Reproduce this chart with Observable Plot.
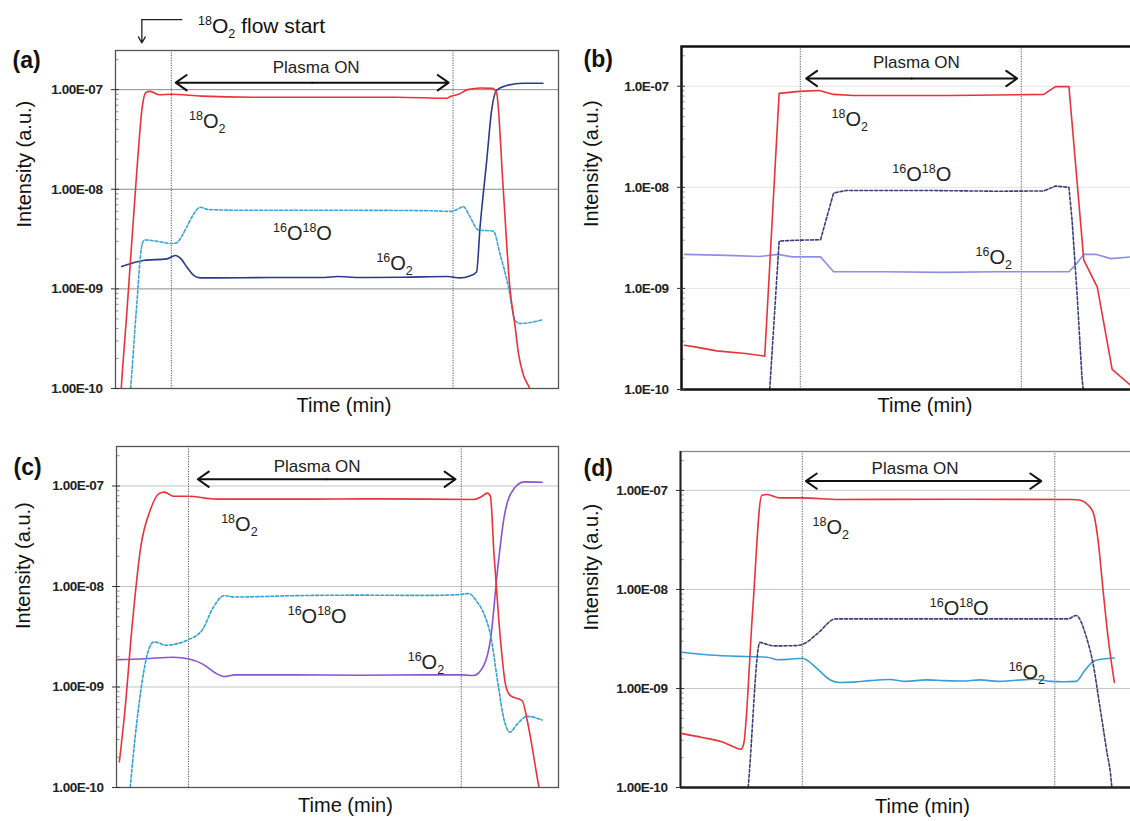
<!DOCTYPE html>
<html><head><meta charset="utf-8">
<script src="https://cdn.jsdelivr.net/npm/d3@7"></script>
<script src="https://cdn.jsdelivr.net/npm/@observablehq/plot@0.6"></script>
<style>
html,body{margin:0;padding:0;background:#fff;overflow:hidden;}
#fig{position:relative;width:1130px;height:821px;overflow:hidden;background:#fff;}
.panel{position:absolute;}
.panel svg{display:block;max-width:none;overflow:visible;}
g[aria-label="y-axis tick label"] text{letter-spacing:-0.45px;}
</style></head><body><div id="fig"></div>
<script>
// ---------- data (time in arbitrary units 0–100 across each frame, intensity in a.u.) ----------
const yTicks = [1e-10, 1e-9, 1e-8, 1e-7];

// (a)
const a18O2 = [[1.0,6e-11],[1.3,1.0e-10],[2.6,6.1e-10],[4.8,1.5e-8],[6.0,6.5e-8],[6.8,9.3e-8],[7.8,9.6e-8],[9.8,8.9e-8],[12.6,9.0e-8],[19.5,8.6e-8],[30.9,8.4e-8],[47.2,8.4e-8],[63.4,8.4e-8],[74.8,8.2e-8],[75.5,8.5e-8],[77.5,9.0e-8],[79.5,1.0e-7],[82.5,1.04e-7],[85.0,1.03e-7],[86.0,9.4e-8],[87.5,1.05e-8],[89.0,1.05e-9],[90.2,4.2e-10],[91.0,2.2e-10],[92.0,1.4e-10],[93.5,1.0e-10],[94.3,8e-11]];
const a16O18O = [[3.2,8e-11],[3.4,1.0e-10],[4.7,6.1e-10],[6.0,2.8e-9],[6.6,3.1e-9],[9.5,3.0e-9],[12.5,2.85e-9],[13.8,2.9e-9],[15.0,3.4e-9],[16.1,4.2e-9],[17.6,5.6e-9],[19.1,6.6e-9],[21,6.25e-9],[30,6.15e-9],[50,6.15e-9],[70,6.1e-9],[75.8,6.0e-9],[77.2,6.3e-9],[78.5,6.7e-9],[80,5.3e-9],[81.9,3.9e-9],[85.3,3.8e-9],[86.8,2.24e-9],[88.7,1.05e-9],[90.2,4.8e-10],[91.3,4.5e-10],[96.5,4.9e-10]];
const a16O2 = [[1.4,1.68e-9],[6.3,1.93e-9],[11.6,2.0e-9],[13.5,2.16e-9],[14.8,2.0e-9],[16.1,1.66e-9],[17.8,1.35e-9],[19.1,1.29e-9],[22.8,1.29e-9],[35,1.3e-9],[47.2,1.3e-9],[50,1.33e-9],[55,1.3e-9],[65,1.31e-9],[75,1.33e-9],[77.7,1.29e-9],[80,1.35e-9],[81.5,1.48e-9],[82.3,4.2e-9],[83.8,1.95e-8],[84.9,6.2e-8],[86,9.8e-8],[88.3,1.1e-7],[92,1.16e-7],[96.5,1.16e-7]];

// (b)
const b18O2 = [[0.64,2.74e-10],[3,2.64e-10],[7.8,2.41e-10],[14.2,2.27e-10],[18.5,2.14e-10],[21.7,8.5e-8],[26.2,8.9e-8],[30.6,9.06e-8],[33.8,8.3e-8],[38.2,8.1e-8],[60,8.1e-8],[80.5,8.3e-8],[83.1,9.9e-8],[86.1,9.9e-8],[89.4,1.9e-9],[92.4,1.03e-9],[95.7,1.58e-10],[99.8,1.1e-10]];
const b16O18O = [[19.4,8e-11],[19.6,1.0e-10],[21.7,2.94e-9],[26,3.0e-9],[30.9,3.03e-9],[33.8,8.8e-9],[36.6,9.3e-9],[55,9.3e-9],[70,9.15e-9],[80.5,9.2e-9],[83.1,1.03e-8],[86.1,1.0e-8],[86.8,4.7e-9],[87.9,8.9e-10],[89.0,1.3e-10],[89.5,8e-11]];
const b16O2 = [[0.64,2.17e-9],[10.2,2.12e-9],[17.4,2.07e-9],[21.4,2.17e-9],[24.6,2.05e-9],[30.9,2.05e-9],[33.8,1.46e-9],[45,1.46e-9],[58,1.44e-9],[70,1.46e-9],[86.1,1.46e-9],[87.8,1.76e-9],[89.4,2.17e-9],[92.2,2.17e-9],[95.4,1.97e-9],[99.8,2.05e-9]];

// (c)
const c18O2 = [[0.65,1.8e-10],[1.9,5.8e-10],[3.5,3.9e-9],[5.5,2.5e-8],[7.6,5.7e-8],[9.6,8.4e-8],[10.8,8.7e-8],[12.9,7.9e-8],[16.2,7.9e-8],[22.7,7.4e-8],[40,7.4e-8],[60,7.45e-8],[80.8,7.35e-8],[82.5,7.8e-8],[83.9,8.5e-8],[84.6,7.9e-8],[85.4,2.12e-8],[86.5,4.6e-9],[88,1.07e-9],[89.1,8.2e-10],[91.8,7.3e-10],[92.9,4.7e-10],[95.5,1.05e-10],[96,8e-11]];
const c16O18O = [[2.9,8e-11],[3.1,1.0e-10],[5.1,6.8e-10],[7.2,2.3e-9],[8.4,2.8e-9],[9.6,2.75e-9],[11.0,2.6e-9],[12.9,2.65e-9],[16.2,2.95e-9],[19.4,3.7e-9],[21.9,6.2e-9],[24.3,8.1e-9],[26.8,7.85e-9],[40,8.1e-9],[55,8.2e-9],[70,8.15e-9],[77.5,8.3e-9],[79.7,8.5e-9],[81.6,7.0e-9],[83.1,5.4e-9],[84.7,3.16e-9],[86.2,1.16e-9],[87.7,4.7e-10],[89,3.55e-10],[90.7,4.3e-10],[92.9,5.1e-10],[96.3,4.7e-10]];
const c16O2 = [[0.2,1.87e-9],[6.4,1.91e-9],[12.9,1.98e-9],[16.2,1.91e-9],[19.4,1.7e-9],[22.7,1.35e-9],[24.3,1.27e-9],[26.8,1.32e-9],[40,1.32e-9],[55,1.31e-9],[70,1.32e-9],[78.3,1.32e-9],[80.8,1.30e-9],[83.1,1.64e-9],[84.7,3.16e-9],[86.2,1.45e-8],[87.7,4.9e-8],[89.2,8.4e-8],[92.2,1.1e-7],[96.3,1.09e-7]];

// (d)
const d18O2 = [[0.4,3.5e-10],[4.8,3.2e-10],[9.6,2.85e-10],[12,2.55e-10],[13.4,2.44e-10],[14,2.75e-10],[16,6.1e-9],[18,8.9e-8],[19.2,9.1e-8],[22,8.4e-8],[27,8.4e-8],[35.2,8.1e-8],[60,8.15e-8],[86.7,8.1e-8],[88.5,8.0e-8],[89.6,7.6e-8],[91.5,6.0e-8],[92.6,3.1e-8],[93.7,9.8e-9],[94.8,3.3e-9],[96.2,1.15e-9]];
const d16O18O = [[14.8,8e-11],[15.0,1.0e-10],[17.6,2.92e-9],[18.8,2.82e-9],[20.8,2.69e-9],[25.6,2.71e-9],[27.6,2.86e-9],[30.4,3.6e-9],[34.4,5.04e-9],[50,5.04e-9],[70,5.04e-9],[85.9,5.04e-9],[87.7,5.45e-9],[90,3.3e-9],[91.5,1.76e-9],[93,6.5e-10],[94.4,2.5e-10],[95.6,1.05e-10],[95.8,8e-11]];
const d16O2 = [[0.4,2.32e-9],[6.4,2.18e-9],[14.4,2.1e-9],[19.2,2.07e-9],[21.6,1.95e-9],[24,1.97e-9],[27,2.02e-9],[30.4,1.57e-9],[33.2,1.22e-9],[35.2,1.15e-9],[38.4,1.16e-9],[42,1.2e-9],[46.4,1.23e-9],[50,1.18e-9],[54.4,1.22e-9],[58.4,1.2e-9],[62.4,1.19e-9],[66.4,1.22e-9],[70.4,1.18e-9],[74.4,1.21e-9],[78.4,1.24e-9],[82,1.18e-9],[85,1.17e-9],[87.7,1.18e-9],[89.6,1.51e-9],[91.8,1.9e-9],[94.8,2.01e-9],[96.2,2.03e-9]];

// plasma on / off times per panel
const plasmaA = [12.6, 76.2], plasmaB = [26.4, 75.5], plasmaC = [16.3, 78.0], plasmaD = [27.0, 83.0];
const panelNames = ["(a)", "(b)", "(c)", "(d)"];
const seriesNames = ["18O2", "16O18O", "16O2"];

// ---------- rendering ----------
const FONT = '"Liberation Sans", Arial, Helvetica, sans-serif';
const RED = "#e8333a";
const TOP = Math.pow(10, -6.607);
const minorTicks = [];
for (let k = -10; k <= -7; k++) for (let m = 2; m <= 9; m++) if (m * Math.pow(10, k) < TOP) minorTicks.push(m * Math.pow(10, k));

const FORMULAS = {
  "18O2": [["18","sup"],["O","base"],["2","sub"]],
  "16O18O": [["16","sup"],["O","base"],["18","sup"],["O","base"]],
  "16O2": [["16","sup"],["O","base"],["2","sub"]],
  "18O2 flow start": [["18","sup"],["O","base"],["2","sub"],[" flow start","base"]]
};
function formatFormulas(svg) {
  d3.select(svg).selectAll("text").each(function () {
    const parts = FORMULAS[this.textContent];
    if (!parts) return;
    const ya = this.getAttribute("y");
    if (ya && ya.endsWith("em")) this.removeAttribute("y");
    this.removeAttribute("dy");
    const big = this.textContent.length > 8 ? 21 : 20;
    const el = d3.select(this).text(null);
    let level = 0, first = true;
    for (const [s, kind] of parts) {
      const target = kind === "sup" ? -8 : kind === "sub" ? 5 : 0;
      let dy = target - level + (first ? 7 : 0);
      first = false; level = target;
      el.append("tspan").attr("dy", dy).attr("font-size", kind === "base" ? big : 12.5).text(s);
    }
  });
}
const fmt = (digits) => (d) => {
  const [m, e] = d.toExponential(digits).split("e");
  return m + "E" + (e[0] === "-" ? "-" : "+") + e.slice(1).padStart(2, "0");
};
const L = (v) => Math.pow(10, v);

const panels = [
  { name: panelNames[0], left: 0, top: 0, width: 565, height: 425, mL: 115, mR: 7, mT: 50, mB: 37,
    series: [a18O2, a16O18O, a16O2], colors: [RED, "#3aa6d9", "#2d3a8c"], curve: "monotone-x",
    grid: "#8c8c8c", frame: {stroke: "#555", w: 1.3}, digits: 2, plasma: plasmaA,
    arrow: {y: -6.93, x1: 13.6, x2: 75.2}, ptext: {x: 45.3, y: -6.78},
    labels: [[20.7, -7.311], [42.2, -8.434], [63.0, -8.745]],
    yl: {dx: -91, dy: 8}, xl: {dx: 7, dy: 23}, pl: {dx: -103, dy: 1}, flow: true },
  { name: panelNames[1], left: 565, top: 0, width: 570, height: 425, mL: 116, mR: 4, mT: 46, mB: 36,
    series: [b18O2, b16O18O, b16O2], colors: [RED, "#3a3e7c", "#8d8fe6"], curve: "linear",
    grid: "#e4e4e4", frame: {stroke: "#111", w: 2.5}, digits: 1, plasma: plasmaB,
    arrow: {y: -6.924, x1: 27.7, x2: 74.6}, ptext: {x: 52.2, y: -6.765},
    labels: [[37.4, -7.323], [53.4, -7.866], [69.4, -8.689]],
    yl: {dx: -90, dy: 9}, xl: {dx: 18.5, dy: 22}, pl: {dx: -98, dy: 4} },
  { name: panelNames[2], left: 0, top: 425, width: 565, height: 396, mL: 116, mR: 7, mT: 21, mB: 34,
    series: [c18O2, c16O18O, c16O2], colors: [RED, "#2fa3d6", "#8b52d2"], curve: "monotone-x",
    grid: "#c4c4c4", frame: {stroke: "#555", w: 1.3}, digits: 2, plasma: plasmaC,
    arrow: {y: -6.933, x1: 18.4, x2: 76.7}, ptext: {x: 45.4, y: -6.81},
    labels: [[27.8, -7.382], [45.4, -8.298], [70.0, -8.756]],
    yl: {dx: -93, dy: 12}, xl: {dx: 8, dy: 24.5}, pl: {dx: -103, dy: 12} },
  { name: panelNames[3], left: 565, top: 425, width: 570, height: 396, mL: 115, mR: 4, mT: 26, mB: 34,
    series: [d18O2, d16O18O, d16O2], colors: [RED, "#3d3f78", "#3a9dd9"], curve: "monotone-x",
    grid: "#c8c8c8", frame: {stroke: "#888", w: 1.3}, heavyLB: true, digits: 2, plasma: plasmaD,
    arrow: {y: -6.906, x1: 27.8, x2: 80.0}, ptext: {x: 52, y: -6.78},
    labels: [[33.3, -7.371], [61.8, -8.186], [76.8, -8.837]],
    yl: {dx: -89, dy: 11}, xl: {dx: 16.5, dy: 25}, pl: {dx: -97, dy: 8} }
];

const fig = document.getElementById("fig");
for (const p of panels) {
  const mid = (p.arrow.x1 + p.arrow.x2) / 2;
  const labelData = seriesNames.map((s, i) => ({s, t: p.labels[i][0], v: L(p.labels[i][1])}));
  const marks = [
    Plot.gridY(yTicks, {stroke: p.grid, strokeOpacity: 1, strokeWidth: 1}),
    Plot.ruleY(minorTicks, {x1: 0, x2: 0.8, stroke: "#777", strokeWidth: 0.8}),
    Plot.ruleX(p.plasma, {stroke: "#555", strokeWidth: 1, strokeDasharray: "1.2,1.3"}),
    Plot.line(p.series[2], {x: d => d[0], y: d => d[1], stroke: p.colors[2], strokeWidth: 1.6, curve: p.curve, clip: true}),
    Plot.line(p.series[1], {x: d => d[0], y: d => d[1], stroke: p.colors[1], strokeWidth: 1.6, strokeDasharray: "3,2", curve: p.curve, clip: true}),
    Plot.line(p.series[0], {x: d => d[0], y: d => d[1], stroke: p.colors[0], strokeWidth: 1.6, curve: p.curve, clip: true}),
    Plot.frame({stroke: p.frame.stroke, strokeWidth: p.frame.w}),
    Plot.axisY(yTicks, {tickFormat: fmt(p.digits), tickSize: 4, tickPadding: 9, fontSize: 13.5, fontWeight: "bold", label: null, fill: "#222", stroke: "#333"}),
    Plot.ruleY(yTicks, {x1: 0, x2: 0.9, stroke: "#333", strokeWidth: 1}),
    Plot.arrow([{a: mid, b: p.arrow.x1}, {a: mid, b: p.arrow.x2}], {x1: "a", x2: "b", y1: () => L(p.arrow.y), y2: () => L(p.arrow.y), stroke: "#111", strokeWidth: 2, headLength: 10, headAngle: 70}),
    Plot.text([p.ptext], {x: "x", y: d => L(d.y), text: () => "Plasma ON", fontSize: 17, fill: "#222"}),
    Plot.text(labelData, {x: "t", y: "v", text: "s", fontSize: 20, fill: "#222"}),
    Plot.text(["Intensity (a.u.)"], {text: d => d, frameAnchor: "left", rotate: -90, dx: p.yl.dx, dy: p.yl.dy, fontSize: 20, fill: "#111"}),
    Plot.text(["Time (min)"], {text: d => d, frameAnchor: "bottom", dx: p.xl.dx, dy: p.xl.dy, fontSize: 20, fill: "#111"}),
    Plot.text([p.name], {text: d => d, frameAnchor: "top-left", textAnchor: "start", dx: p.pl.dx, dy: p.pl.dy, fontSize: 23, fontWeight: "bold", fill: "#111"})
  ];
  if (p.heavyLB) {
    marks.push(Plot.ruleY([1e-10], {stroke: "#222", strokeWidth: 2.5}));
    marks.push(Plot.ruleX([0], {stroke: "#222", strokeWidth: 2}));
  }
  if (p.flow) {
    marks.push(Plot.line([[5.95, L(-6.298)], [14.97, L(-6.298)]], {x: d => d[0], y: d => d[1], stroke: "#222", strokeWidth: 1.3}));
    marks.push(Plot.arrow([{x: 5.95}], {x1: "x", x2: "x", y1: () => L(-6.298), y2: () => L(-6.53), stroke: "#222", strokeWidth: 1.3, headLength: 8, headAngle: 60}));
    marks.push(Plot.text(["18O2 flow start"], {text: d => d, x: () => 18.65, y: () => L(-6.363), textAnchor: "start", fontSize: 21, fill: "#111"}));
  }
  const svg = Plot.plot({
    width: p.width, height: p.height,
    marginLeft: p.mL, marginRight: p.mR, marginTop: p.mT, marginBottom: p.mB,
    x: {domain: [0, 100], axis: null},
    y: {type: "log", domain: [1e-10, TOP]},
    style: {fontFamily: FONT, background: "transparent", maxWidth: "none", overflow: "visible"},
    marks
  });
  formatFormulas(svg);
  const div = document.createElement("div");
  div.className = "panel";
  div.style.left = p.left + "px";
  div.style.top = p.top + "px";
  div.style.width = p.width + "px";
  div.style.height = p.height + "px";
  div.appendChild(svg);
  fig.appendChild(div);
}
</script></body></html>
